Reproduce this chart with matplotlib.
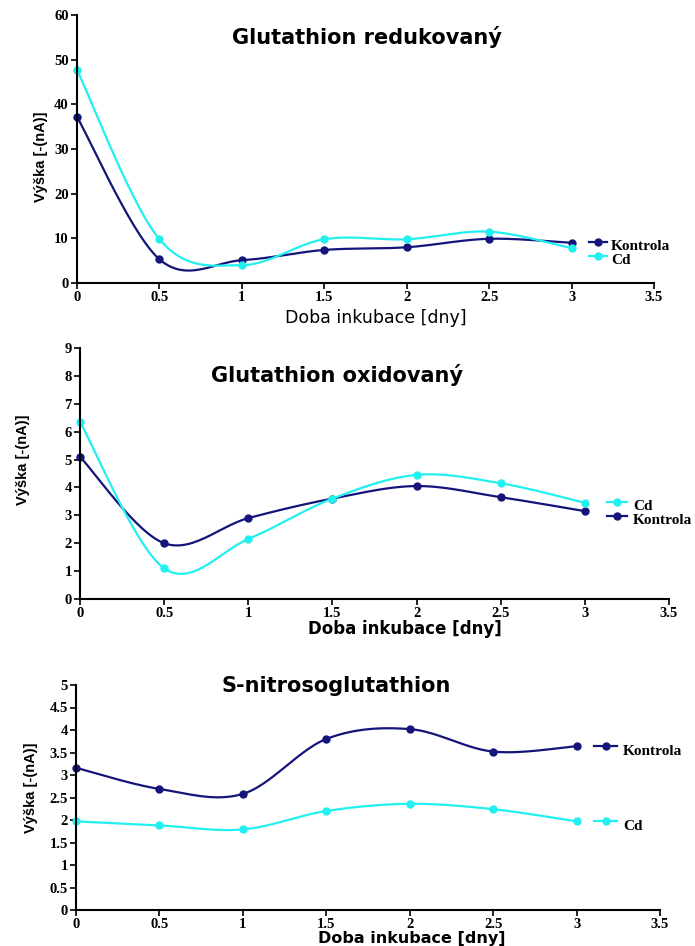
import numpy as np
import matplotlib
matplotlib.use("Agg")
import matplotlib.pyplot as plt
from matplotlib.lines import Line2D

W, H = 695, 946

days = [0, 0.5, 1, 1.5, 2, 2.5, 3]

# Glutathion redukovany
red_kontrola = [37.2, 5.3, 5.1, 7.4, 8.0, 9.9, 9.0]
red_cd = [47.7, 9.8, 4.0, 9.8, 9.8, 11.5, 7.8]

# Glutathion oxidovany
ox_kontrola = [5.1, 2.0, 2.9, 3.6, 4.05, 3.65, 3.15]
ox_cd = [6.35, 1.1, 2.15, 3.6, 4.45, 4.15, 3.45]

# S-nitrosoglutathion
sno_kontrola = [3.16, 2.69, 2.58, 3.8, 4.02, 3.52, 3.64]
sno_cd = [1.97, 1.88, 1.79, 2.2, 2.36, 2.24, 1.97]

NAVY = "#14147a"
CYAN = "#22f0f0"
SERIF = "Liberation Serif"
SANS = "Liberation Sans"
WIDE = "DejaVu Sans"


def fx(px):
    return px / W


def fy(py):
    return 1 - py / H


def smooth(x, y, n=30):
    # Excel-like smoothed line (Catmull-Rom bezier)
    x = np.asarray(x, float)
    y = np.asarray(y, float)
    px = np.concatenate([[x[0]], x, [x[-1]]])
    py = np.concatenate([[y[0]], y, [y[-1]]])
    xs, ys = [], []
    t = np.linspace(0, 1, n)
    for i in range(1, len(px) - 2):
        p0, p1, p2, p3 = (np.array([px[j], py[j]]) for j in range(i - 1, i + 3))
        c1 = p1 + (p2 - p0) / 6
        c2 = p2 - (p3 - p1) / 6
        b = ((1 - t) ** 3)[:, None] * p1 + (3 * (1 - t) ** 2 * t)[:, None] * c1 \
            + (3 * (1 - t) * t ** 2)[:, None] * c2 + (t ** 3)[:, None] * p2
        xs.extend(b[:, 0])
        ys.extend(b[:, 1])
    return xs, ys


def panel(rect, ymax, ystep, kontrola, cd, title, tpos, xlab, xpos, xstyle, ypos, legend):
    ax = fig.add_axes(rect)
    for vals, col in ((kontrola, NAVY), (cd, CYAN)):
        sx, sy = smooth(days, vals)
        ax.plot(sx, sy, color=col, lw=1.6, clip_on=False)
        ax.plot(days, vals, "o", color=col, ms=5, clip_on=False)
    ax.set_xlim(0, 3.5)
    ax.set_ylim(0, ymax)
    ax.set_xticks(np.arange(0, 3.51, 0.5))
    ax.set_xticklabels([f"{v:g}" for v in np.arange(0, 3.51, 0.5)])
    ax.set_yticks(np.arange(0, ymax + 1e-9, ystep))
    ax.set_yticklabels([f"{v:g}" for v in np.arange(0, ymax + 1e-9, ystep)])
    for s in ("top", "right"):
        ax.spines[s].set_visible(False)
    for s in ("left", "bottom"):
        ax.spines[s].set_linewidth(1.5)
    ax.tick_params(axis="both", length=4, width=1.2, pad=2)
    for lab in ax.get_xticklabels() + ax.get_yticklabels():
        lab.set_fontfamily(SERIF)
        lab.set_fontweight("bold")
        lab.set_fontsize(10.5)
    ax.patch.set_alpha(0)

    fig.text(fx(tpos[0]), fy(tpos[1]), title, ha="center", va="center",
             fontsize=15, fontweight="bold", family=WIDE)
    fig.text(fx(xpos[0]), fy(xpos[1]), xlab, ha="center", va="center",
             fontsize=xstyle[0], fontweight=xstyle[1], family=WIDE)
    fig.text(fx(ypos[0]), fy(ypos[1]), "Výška [-(nA)]", ha="center", va="center",
             rotation=90, fontsize=10.5, fontweight="bold", family=SANS)

    for name, col, (lx0, lx1, ly, tx) in legend:
        fig.add_artist(Line2D([fx(lx0), fx(lx1)], [fy(ly), fy(ly)], color=col, lw=1.6,
                              transform=fig.transFigure))
        fig.add_artist(Line2D([fx((lx0 + lx1) / 2)], [fy(ly)], color=col, marker="o", ms=5,
                              transform=fig.transFigure))
        fig.text(fx(tx), fy(ly + 5), name, ha="left", va="center", fontsize=11,
                 fontweight="bold", family=SERIF)
    return ax


fig = plt.figure(figsize=(W / 100, H / 100), dpi=100)

panel([fx(77), fy(283), fx(654) - fx(77), fy(15) - fy(283)], 60, 10,
      red_kontrola, red_cd, "Glutathion redukovaný", (367, 37),
      "Doba inkubace [dny]", (376, 318), (12.5, "normal"), (41, 157),
      [("Kontrola", NAVY, (589, 607, 242, 611)), ("Cd", CYAN, (589, 607, 256, 611))])

panel([fx(80), fy(599), fx(669) - fx(80), fy(348) - fy(599)], 9, 1,
      ox_kontrola, ox_cd, "Glutathion oxidovaný", (337, 375),
      "Doba inkubace [dny]", (405, 629), (12, "bold"), (23, 460),
      [("Cd", CYAN, (607, 627, 502, 633)), ("Kontrola", NAVY, (607, 627, 516, 633))])

panel([fx(76), fy(910), fx(660) - fx(76), fy(685) - fy(910)], 5, 0.5,
      sno_kontrola, sno_cd, "S-nitrosoglutathion", (336, 686),
      "Doba inkubace [dny]", (412, 938), (11.5, "bold"), (31, 788),
      [("Kontrola", NAVY, (594, 617, 746, 623)), ("Cd", CYAN, (594, 617, 821, 623))])

fig.savefig("out.png", dpi=100)
